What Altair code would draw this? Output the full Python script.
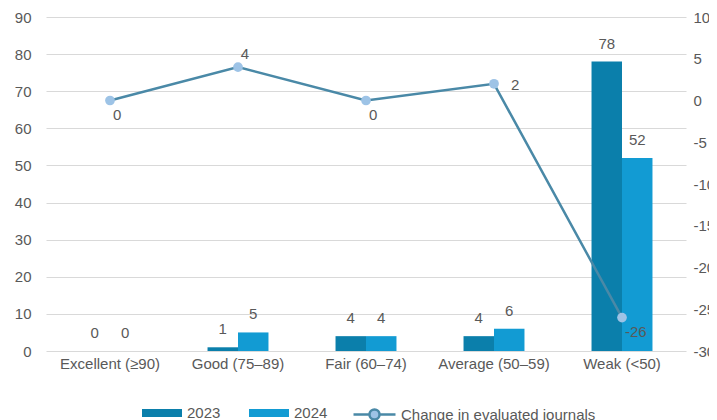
import altair as alt
import pandas as pd

categories = ["Excellent (≥90)", "Good (75–89)", "Fair (60–74)", "Average (50–59)", "Weak (<50)"]
years = ["2023", "2024"]
values_2023 = [0, 1, 4, 4, 78]
values_2024 = [0, 5, 4, 6, 52]
change = [0, 4, 0, 2, -26]
label_pos = ["below", "above", "below", "right", "below"]
series_name = "Change in evaluated journals"
left_ticks = list(range(0, 91, 10))
right_ticks = list(range(-30, 11, 5))

bars_df = pd.DataFrame({
    "category": categories * 2,
    "year": [years[0]] * len(categories) + [years[1]] * len(categories),
    "value": values_2023 + values_2024,
})
line_df = pd.DataFrame({
    "category": categories,
    "change": change,
    "pos": label_pos,
    "series": [series_name] * len(categories),
})

FONT = "Liberation Sans"
FS = 15
TXT = "#595959"
C23 = "#0B7FAB"
C24 = "#129BD3"
LINE = "#4A89A7"
MARK = "#9DC3E6"

x_enc = alt.X(
    "category:N", sort=categories,
    scale=alt.Scale(paddingInner=0.2, paddingOuter=0.1),
    axis=alt.Axis(title=None, labelAngle=0, ticks=False, domain=False,
                  labelPadding=5, labelFontSize=FS, labelColor=TXT, labelFont=FONT),
)
xoff = alt.XOffset("year:N", sort=years, scale=alt.Scale(paddingInner=0, paddingOuter=0.68))

y_bar = alt.Y(
    "value:Q", scale=alt.Scale(domain=[0, 90], nice=False),
    axis=alt.Axis(title=None, values=left_ticks, tickCount=10, grid=True, gridColor="#D9D9D9",
                  gridWidth=1, ticks=False, domain=False, labelPadding=15,
                  labelOverlap=False, labelFontSize=FS, labelColor=TXT, labelFont=FONT),
)

bars = alt.Chart(bars_df).mark_bar().encode(
    x=x_enc, xOffset=xoff, y=y_bar,
    color=alt.Color(
        "year:N", sort=years,
        scale=alt.Scale(domain=years, range=[C23, C24]),
        legend=alt.Legend(
            title=None, orient="none", direction="horizontal",
            legendX=96, legendY=376, padding=0,
            symbolType="M-1,-0.2L1,-0.2L1,0.2L-1,0.2Z", symbolSize=1600,
            symbolStrokeWidth=0, labelFontSize=FS, labelColor=TXT, labelFont=FONT,
            labelOffset=5, columnPadding=28,
        ),
    ),
)
bar_text = alt.Chart(bars_df).mark_text(
    baseline="alphabetic", dy=-13, fontSize=FS, color=TXT, font=FONT
).encode(x=x_enc, xOffset=xoff, y=y_bar, text=alt.Text("value:Q"))

y_line = alt.Y(
    "change:Q", scale=alt.Scale(domain=[-30, 10], nice=False),
    axis=alt.Axis(title=None, orient="right", values=right_ticks, grid=False,
                  ticks=False, domain=False, labelPadding=7, labelOverlap=False,
                  labelExpr="'' + datum.value",
                  labelFontSize=FS, labelColor=TXT, labelFont=FONT),
)
x_line = alt.X("category:N", sort=categories)
line = alt.Chart(line_df).mark_line(strokeWidth=2.5).encode(
    x=x_line, y=y_line,
    stroke=alt.Stroke(
        "series:N",
        scale=alt.Scale(domain=[series_name], range=[LINE]),
        legend=alt.Legend(
            title=None, orient="none", legendX=306, legendY=375, padding=0,
            symbolType="M-1,0H-0.24M0.24,0H1M0.24,0A0.24,0.24 0 1 1 -0.24,0A0.24,0.24 0 1 1 0.24,0Z",
            symbolSize=1764, symbolFillColor=MARK, symbolStrokeWidth=2.5,
            labelFontSize=FS, labelColor=TXT, labelFont=FONT, labelOffset=4,
            labelLimit=400,
        ),
    ),
)
points = alt.Chart(line_df).mark_point(filled=True, size=95, color=MARK, opacity=1).encode(
    x=x_line, y=y_line,
)
base_lab = alt.Chart(line_df).transform_calculate(lbl="'' + datum.change")
lab_below = base_lab.transform_filter(alt.datum.pos == "below").mark_text(
    align="left", baseline="middle", dx=3, dy=14, fontSize=FS, color=TXT, font=FONT
).encode(x=x_line, y=y_line, text="lbl:N")
lab_above = base_lab.transform_filter(alt.datum.pos == "above").mark_text(
    align="center", baseline="middle", dx=7, dy=-13, fontSize=FS, color=TXT, font=FONT
).encode(x=x_line, y=y_line, text="lbl:N")
lab_right = base_lab.transform_filter(alt.datum.pos == "right").mark_text(
    align="left", baseline="middle", dx=17, dy=1, fontSize=FS, color=TXT, font=FONT
).encode(x=x_line, y=y_line, text="lbl:N")

bar_layer = alt.layer(bars, bar_text)
line_layer = alt.layer(line, points, lab_below, lab_above, lab_right)

chart = alt.layer(bar_layer, line_layer).resolve_scale(
    y="independent", color="independent", stroke="independent"
).properties(
    width=640, height=334,
    autosize=alt.AutoSizeParams(type="none"),
    padding={"left": 38, "top": 9, "right": 23, "bottom": 80},
    background="white",
).configure_view(stroke=None)

chart.save("out.html", embed_options={"renderer": "svg", "actions": False})
